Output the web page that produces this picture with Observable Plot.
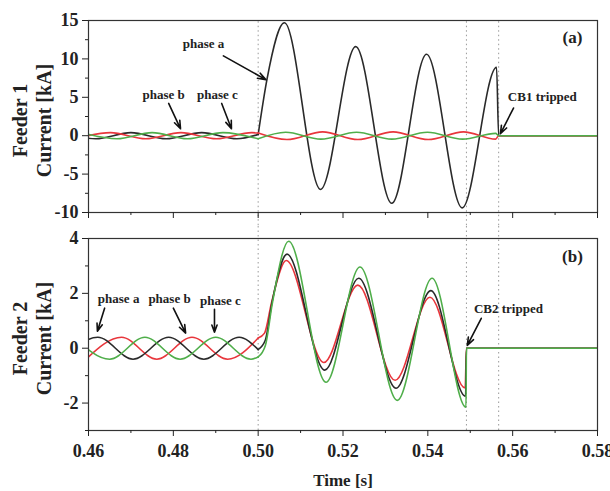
<!DOCTYPE html>
<html><head><meta charset="utf-8">
<script src="https://cdn.jsdelivr.net/npm/d3@7"></script>
<script src="https://cdn.jsdelivr.net/npm/@observablehq/plot@0.6"></script>
<style>
html,body{margin:0;padding:0;background:#fff;}
#chart{width:610px;height:491px;overflow:hidden;background:#fff;}
#chart svg{display:block;}
</style></head><body><div id="chart"></div>
<script>
// ---- ticks ----
const timeTicks = [0.46, 0.48, 0.50, 0.52, 0.54, 0.56, 0.58];
const timeMinorTicks = [0.47, 0.49, 0.51, 0.53, 0.55, 0.57];
const feeder1Ticks = [-10, -5, 0, 5, 10, 15];
const feeder1MinorTicks = [-7.5, -2.5, 2.5, 7.5, 12.5];
const feeder2Ticks = [-2, 0, 2, 4];
const feeder2MinorTicks = [-3, -1, 1, 3];
const feeder1Domain = [-10, 15];
const feeder2Domain = [-3, 4];
const timeDomain = [0.46, 0.58];
const eventTimes = [0.500, 0.5491, 0.5567];

// ---- Feeder 1 currents [kA] as [time s, value] ----
const f1PhaseAPre  = [[0.4533,0.4],[0.4617,-0.4],[0.4700,0.4],[0.4783,-0.4],[0.4867,0.4],[0.4950,-0.4],[0.5000,0.15]];
const f1PhaseAPost = [[0.5000,0.15],[0.5021,7.4],[0.5062,14.7],[0.5147,-7.0],[0.5230,11.6],[0.5315,-8.8],[0.5397,10.6],[0.5481,-9.4],[0.5562,8.9],[0.5567,0],[0.58,0]];
const f1PhaseBPre  = [[0.4568,-0.4],[0.4652,0.4],[0.4735,-0.4],[0.4818,0.4],[0.4902,-0.4],[0.4985,0.4],[0.5000,0.35]];
const f1PhaseBPost = [[0.5000,0.35],[0.5068,-0.5],[0.5152,0.5],[0.5235,-0.5],[0.5318,0.5],[0.5401,-0.5],[0.5484,0.5],[0.5560,-0.45],[0.5567,0],[0.58,0]];
const f1PhaseCPre  = [[0.4583,0.4],[0.4667,-0.4],[0.4750,0.4],[0.4833,-0.4],[0.4917,0.4],[0.5000,-0.4]];
const f1PhaseCPost = [[0.5000,-0.4],[0.5065,0.45],[0.5148,-0.45],[0.5232,0.45],[0.5315,-0.45],[0.5399,0.45],[0.5482,-0.45],[0.5560,0.3],[0.5567,0],[0.58,0]];

// ---- Feeder 2 currents [kA] ----
const f2PhaseAPre  = [[0.4539,-0.4],[0.4622,0.4],[0.4705,-0.4],[0.4789,0.4],[0.4872,-0.4],[0.4955,0.4],[0.5000,-0.05]];
const f2PhaseAPost = [[0.5000,-0.05],[0.5017,0.3],[0.5033,1.7],[0.5068,3.43],[0.5157,-0.80],[0.5237,2.55],[0.5325,-1.46],[0.5407,2.10],[0.5489,-1.75],[0.5491,0],[0.58,0]];
const f2PhaseBPre  = [[0.4594,-0.4],[0.4678,0.4],[0.4761,-0.4],[0.4844,0.4],[0.4928,-0.4],[0.5000,0.37]];
const f2PhaseBPost = [[0.5000,0.37],[0.5015,0.55],[0.5032,1.7],[0.5066,3.2],[0.5155,-0.52],[0.5235,2.3],[0.5323,-1.17],[0.5405,1.86],[0.5488,-1.45],[0.5491,0],[0.58,0]];
const f2PhaseCPre  = [[0.4567,0.4],[0.4650,-0.4],[0.4733,0.4],[0.4816,-0.4],[0.4900,0.4],[0.4983,-0.4],[0.5000,-0.32]];
const f2PhaseCPost = [[0.5000,-0.32],[0.5017,0.1],[0.5033,1.6],[0.5072,3.9],[0.5160,-1.24],[0.5240,2.96],[0.5328,-1.9],[0.5410,2.55],[0.5490,-2.15],[0.5491,0],[0.58,0]];

// ---- annotations (data coordinates) ----
const labels1 = [
  {t: 0.4871, v: 12.0, text: "phase a"},
  {t: 0.4777, v: 5.3, text: "phase b"},
  {t: 0.4904, v: 5.3, text: "phase c"},
  {t: 0.5670, v: 5.1, text: "CB1 tripped"}
];
const arrows1 = [
  {t1: 0.4918, v1: 10.4, t2: 0.5018, v2: 7.3},
  {t1: 0.4789, v1: 4.2, t2: 0.4817, v2: 0.9},
  {t1: 0.4914, v1: 4.2, t2: 0.4937, v2: 0.9},
  {t1: 0.5602, v1: 3.6, t2: 0.5571, v2: 0.25}
];
const labels2 = [
  {t: 0.4671, v: 1.79, text: "phase a"},
  {t: 0.4791, v: 1.79, text: "phase b"},
  {t: 0.4911, v: 1.71, text: "phase c"},
  {t: 0.5590, v: 1.42, text: "CB2 tripped"}
];
const arrows2 = [
  {t1: 0.4638, v1: 1.46, t2: 0.4621, v2: 0.62},
  {t1: 0.4800, v1: 1.46, t2: 0.4829, v2: 0.55},
  {t1: 0.4897, v1: 1.42, t2: 0.4897, v2: 0.58},
  {t1: 0.5526, v1: 1.09, t2: 0.5493, v2: 0.10}
];
const panelTags = [{t: 0.5741, v: 12.8, text: "(a)"}, {t: 0.5741, v: 3.35, text: "(b)"}];

const colA = "#2a2a2a", colB = "#e8363c", colC = "#4fae4a";
const font = "'Liberation Serif', 'Times New Roman', serif";

const rows = (pairs) => pairs.map(([t, v]) => ({t, v}));
const lines = (list) => list.map(([pairs, color]) =>
  Plot.line(rows(pairs), {x: "t", y: "v", stroke: color, strokeWidth: 1.6, curve: "monotone-x", clip: true}));
const fmtY = (d) => `${d}`;

function panel({height, marginTop, marginBottom, domain, ticks, minor, series, labels, arrows, tag, title, ruleY1, ruleY2, showX}) {
  return Plot.plot({
    width: 610, height,
    marginLeft: 88, marginRight: 13, marginTop, marginBottom,
    x: {domain: timeDomain, label: null},
    y: {domain, label: null},
    style: {fontFamily: font, fontSize: "18px", fontWeight: "bold", color: "#222", background: "white", overflow: "visible"},
    marks: [
      Plot.ruleX(eventTimes, {y1: ruleY1, y2: ruleY2, stroke: "#9a9a9a", strokeWidth: 1, strokeDasharray: "1.5,3"}),
      ...lines(series),
      Plot.frame({stroke: "#333", strokeWidth: 1.2}),
      Plot.axisY(ticks, {tickSize: 6, tickPadding: 4, tickFormat: fmtY, label: null}),
      Plot.axisY(minor, {tickSize: 3, fill: "none", label: null}),
      showX
        ? Plot.axisX(timeTicks, {tickSize: 6, tickPadding: 8, tickFormat: d3.format(".2f"), label: null})
        : Plot.axisX(timeTicks, {tickSize: 6, fill: "none", label: null}),
      Plot.axisX(timeMinorTicks, {tickSize: 3, fill: "none", label: null}),
      Plot.arrow(arrows, {x1: "t1", y1: "v1", x2: "t2", y2: "v2", stroke: "#111", strokeWidth: 1.6, headLength: 8, headAngle: 40}),
      Plot.text(labels, {x: "t", y: "v", text: "text", fontSize: 13, fill: "#222"}),
      Plot.text([tag], {x: "t", y: "v", text: "text", fontSize: 17, fill: "#222"}),
      Plot.text([title], {frameAnchor: "left", textAnchor: "middle", lineAnchor: "middle", rotate: -90, dx: -57, dy: 4, fontSize: 20, lineHeight: 1.2, fill: "#222"}),
      showX ? Plot.text(["Time [s]"], {frameAnchor: "bottom", textAnchor: "middle", lineAnchor: "middle", dy: 50, fontSize: 17, fill: "#222"}) : null
    ]
  });
}

const topPanel = panel({
  height: 225, marginTop: 20, marginBottom: 13,
  domain: feeder1Domain, ticks: feeder1Ticks, minor: feeder1MinorTicks,
  series: [[f1PhaseAPre, colA], [f1PhaseAPost, colA], [f1PhaseBPre, colB], [f1PhaseBPost, colB], [f1PhaseCPre, colC], [f1PhaseCPost, colC]],
  labels: labels1, arrows: arrows1, tag: panelTags[0], title: "Feeder 1\nCurrent [kA]",
  ruleY1: -11.72, ruleY2: 15, showX: false
});
const bottomPanel = panel({
  height: 266, marginTop: 13, marginBottom: 61,
  domain: feeder2Domain, ticks: feeder2Ticks, minor: feeder2MinorTicks,
  series: [[f2PhaseBPre, colB], [f2PhaseBPost, colB], [f2PhaseAPre, colA], [f2PhaseAPost, colA], [f2PhaseCPre, colC], [f2PhaseCPost, colC]],
  labels: labels2, arrows: arrows2, tag: panelTags[1], title: "Feeder 2\nCurrent [kA]",
  ruleY1: -3, ruleY2: 4.48, showX: true
});
document.getElementById("chart").append(topPanel, bottomPanel);
</script>
</body></html>
